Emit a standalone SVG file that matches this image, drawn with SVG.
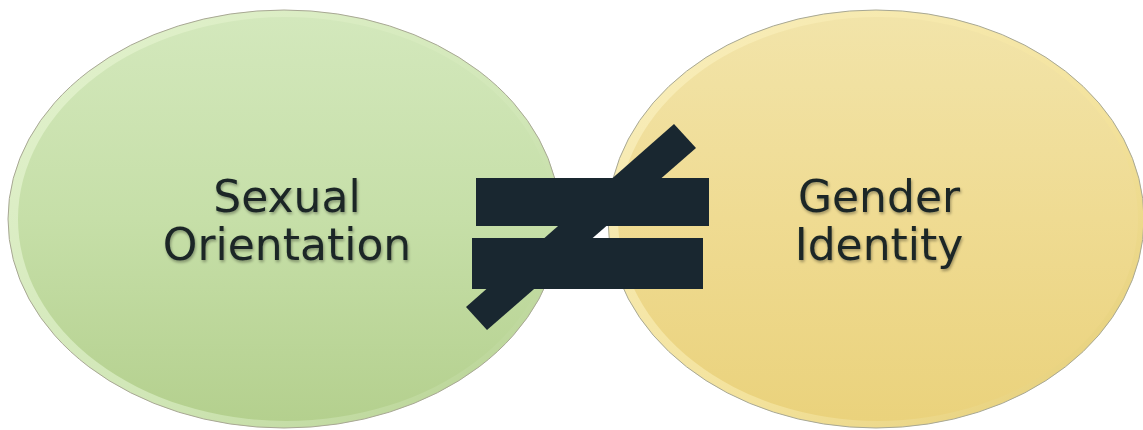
<svg xmlns="http://www.w3.org/2000/svg" width="1143" height="430" viewBox="0 0 1143 430">
  <defs>
    <linearGradient id="gGreen" x1="0" y1="0" x2="0" y2="1">
      <stop offset="0" stop-color="#d3e8bc"/>
      <stop offset="0.5" stop-color="#c6dfa8"/>
      <stop offset="1" stop-color="#b4d08e"/>
    </linearGradient>
    <linearGradient id="gYellow" x1="0" y1="0" x2="0" y2="1">
      <stop offset="0" stop-color="#f2e4a9"/>
      <stop offset="0.5" stop-color="#efdb92"/>
      <stop offset="1" stop-color="#ead27c"/>
    </linearGradient>
    <linearGradient id="rimGreen" x1="0" y1="0" x2="1" y2="1">
      <stop offset="0" stop-color="#e4f3cf"/>
      <stop offset="0.6" stop-color="#d0e6b6"/>
      <stop offset="1" stop-color="#b3cf8d"/>
    </linearGradient>
    <linearGradient id="rimYellow" x1="0" y1="0" x2="1" y2="1">
      <stop offset="0" stop-color="#f9efbe"/>
      <stop offset="0.6" stop-color="#f3e29c"/>
      <stop offset="1" stop-color="#e3cb72"/>
    </linearGradient>
    <filter id="txtShadow" x="-10%" y="-20%" width="120%" height="150%">
      <feGaussianBlur in="SourceAlpha" stdDeviation="1.5"/>
      <feOffset dx="1" dy="2" result="b"/>
      <feComponentTransfer><feFuncA type="linear" slope="0.35"/></feComponentTransfer>
      <feMerge><feMergeNode/><feMergeNode in="SourceGraphic"/></feMerge>
    </filter>
  </defs>
  <style>
    .outline { fill: none; stroke: #a8a894; stroke-width: 1; }
    .label { font-family: "DejaVu Sans", Verdana, sans-serif; font-size: 44px; fill: #1b2727; text-anchor: middle; }
    .neq { fill: #192730; }
  </style>
  <rect width="1143" height="430" fill="#ffffff"/>

  <g id="node-sexual-orientation">
    <ellipse cx="284" cy="219" rx="276" ry="209" fill="url(#rimGreen)"/>
    <ellipse cx="284" cy="219" rx="276" ry="209" class="outline"/>
    <ellipse cx="286" cy="219" rx="268" ry="202" fill="url(#gGreen)"/>
    <g filter="url(#txtShadow)">
      <text class="label" x="287" y="212">Sexual</text>
      <text class="label" x="287" y="260">Orientation</text>
    </g>
  </g>

  <g id="node-gender-identity">
    <ellipse cx="876" cy="219" rx="268" ry="209" fill="url(#rimYellow)"/>
    <ellipse cx="876" cy="219" rx="268" ry="209" class="outline"/>
    <ellipse cx="878" cy="219" rx="260" ry="202" fill="url(#gYellow)"/>
    <g filter="url(#txtShadow)">
      <text class="label" x="879" y="212">Gender</text>
      <text class="label" x="879" y="260">Identity</text>
    </g>
  </g>

  <g id="connectors">
    <g id="not-equal">
      <polygon class="neq" points="674,124 696,148 487,330 466,307"/>
      <rect class="neq" x="476" y="178" width="233" height="48"/>
      <rect class="neq" x="472" y="238" width="231" height="51"/>
    </g>
  </g>
</svg>
